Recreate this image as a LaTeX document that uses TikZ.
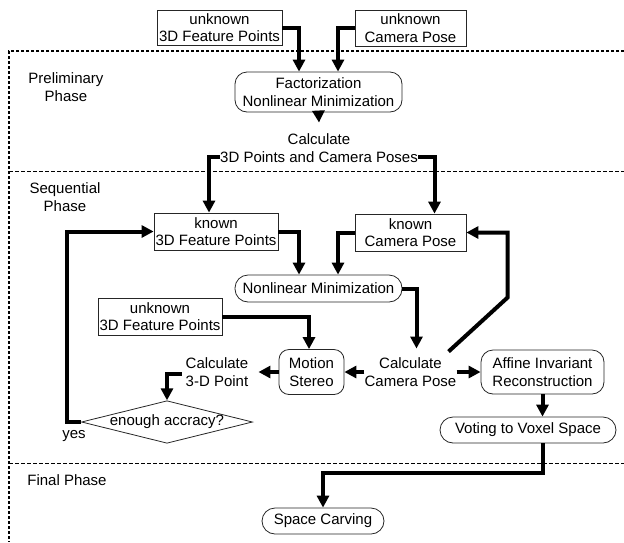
\documentclass[tikz,border=0pt]{standalone}
\usepackage{fontspec}
\setmainfont{Liberation Sans}
\usetikzlibrary{arrows.meta,shapes.geometric}

\tikzset{
  flow/.style={line width=4pt, -{Triangle[length=12pt,width=12pt]}},
  sqbox/.style={draw=black!85, line width=0.8pt, align=center, inner sep=0pt},
  rbox/.style={sqbox, rounded corners=12pt},
  lbl/.style={align=center, inner sep=0pt},
  frameline/.style={line width=2.5pt, dash pattern=on 3pt off 2pt},
  sepline/.style={line width=0.8pt, dash pattern=on 4pt off 2pt}
}

\begin{document}
\begin{tikzpicture}[x=1pt, y=-1pt, font=\fontsize{15}{17.5}\selectfont]
  \useasboundingbox (0,0) rectangle (624,542);

  % Phase frame and separators
  \draw[frameline] (624,51) -- (9,51) -- (9,542);
  \draw[sepline] (9,171) -- (624,171);
  \draw[sepline] (9,463) -- (624,463);

  % Phase names
  \node[lbl] (prelim) at (66,87) {Preliminary\\Phase};
  \node[lbl] (seq) at (65,197) {Sequential\\Phase};
  \node[lbl] (final) at (67,480) {Final Phase};

  % Preliminary phase
  \node[sqbox, minimum width=125, minimum height=35] (ufp1) at (219.5,27.5) {unknown\\3D Feature Points};
  \node[sqbox, minimum width=111, minimum height=36] (ucp) at (410.5,28) {unknown\\Camera Pose};
  \node[rbox, minimum width=167, minimum height=40] (fact) at (318.5,92) {Factorization\\Nonlinear Minimization};
  \node[lbl] (calc3d) at (319,148) {Calculate\\3D Points and Camera Poses};

  \draw[flow] (ufp1.east) -| ([xshift=-19.5pt]fact.north);
  \draw[flow] (ucp.west) -| ([xshift=19.5pt]fact.north);
  \draw[flow] (fact.south) -- ([yshift=11pt]calc3d.north);

  % Sequential phase
  \node[sqbox, minimum width=124, minimum height=37] (kfp) at (216,231.5) {known\\3D Feature Points};
  \node[sqbox, minimum width=111, minimum height=37] (kcp) at (410.5,232.5) {known\\Camera Pose};
  \node[rbox, minimum width=167, minimum height=27, rounded corners=13pt] (nlm) at (318.5,288.5) {Nonlinear Minimization};
  \node[sqbox, minimum width=124, minimum height=37] (ufp2) at (160,316.5) {unknown\\3D Feature Points};
  \node[rbox, minimum width=65, minimum height=45, rounded corners=10pt] (ms) at (311.5,372) {Motion\\Stereo};
  \node[lbl] (ccp) at (410.5,372) {Calculate\\Camera Pose};
  \node[lbl] (c3p) at (217,372) {Calculate\\3-D Point};
  \node[rbox, minimum width=123, minimum height=44] (aff) at (542.5,372) {Affine Invariant\\Reconstruction};
  \node[rbox, minimum width=176, minimum height=26, rounded corners=13pt] (vote) at (528,430) {Voting to Voxel Space};
  \node[draw=black!85, line width=0.8pt, shape=diamond, aspect=4, inner sep=0pt,
        minimum width=171, minimum height=42] (acc) at (167,422) {enough accracy?};
  \node[lbl] (yes) at (74,436) {yes};

  \draw[flow] ([yshift=-9pt]calc3d.west) -| ([xshift=-7pt]kfp.north);
  \draw[flow] ([yshift=-9pt]calc3d.east) -| ([xshift=24pt]kcp.north);
  \draw[flow] (kfp.east) -| ([xshift=-19.5pt]nlm.north);
  \draw[flow] (kcp.west) -| ([xshift=19.5pt]nlm.north);
  \draw[flow] (nlm.east) -| ([xshift=6pt,yshift=9pt]ccp.north);
  \draw[flow] (ufp2.east) -| ([xshift=-2.5pt]ms.north);
  \draw[flow] (ccp.west) -- (ms.east);
  \draw[flow] (ccp.east) -- (aff.west);
  \draw[flow] ([xshift=-8pt,yshift=6pt]ccp.north east) -- ++(59,-54) |- (kcp.east);
  \draw[flow] (ms.west) -- ([xshift=10pt]c3p.east);
  \draw[flow] ([xshift=-4pt,yshift=-2pt]c3p.west) -| (acc.north);
  \draw[flow] (acc.west) -- ++(-14,0) |- (kfp.west);
  \draw[flow] (aff.south) -- (aff.south |- vote.north);

  % Final phase
  \node[rbox, minimum width=122, minimum height=26, rounded corners=13pt] (sc) at (323,521) {Space Carving};
  \draw[flow] ([xshift=14.5pt]vote.south) -- ++(0,30) -| (sc.north);
\end{tikzpicture}
\end{document}
